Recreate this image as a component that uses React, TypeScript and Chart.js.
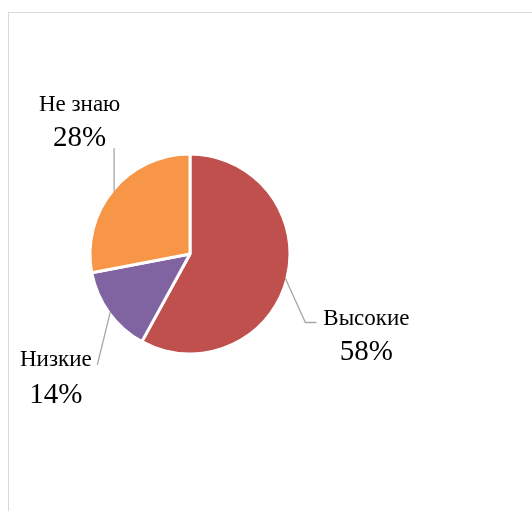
import React, { useEffect, useRef } from "react";
import { Chart, registerables } from "chart.js";

Chart.register(...registerables);

const categories = ["Высокие", "Низкие", "Не знаю"];
const values = [58, 14, 28];
const percentLabels = ["58%", "14%", "28%"];
const sliceColors = ["#C0504D", "#8064A2", "#F79646"];

const FONT_FAMILY = '"Liberation Serif"';

// leader-line and label placement relative to each slice's outer mid-point
const leaderLayout = [
  { bendDx: 20, bendDy: 44, tailDx: 11, textDx: 61, nameDy: 2.5, pctDy: 37.5 },
  { bendDx: -13, bendDy: 53, tailDx: 0, textDx: -41.5, nameDy: 1, pctDy: 38 },
  { bendDx: 0, bendDy: -43, tailDx: 0, textDx: -34.5, nameDy: -37, pctDy: -2 },
];

const labelPlugin = {
  id: "pieLabels",
  afterDraw(chart: any) {
    const ctx = chart.ctx;
    const meta = chart.getDatasetMeta(0);
    meta.data.forEach((arc: any, i: number) => {
      const p = arc.getProps(["x", "y", "startAngle", "endAngle", "outerRadius"], true);
      const mid = (p.startAngle + p.endAngle) / 2;
      const r = p.outerRadius - 1.5;
      const ax = p.x + Math.cos(mid) * r;
      const ay = p.y + Math.sin(mid) * r;
      const L = leaderLayout[i];
      const bx = ax + L.bendDx;
      const by = ay + L.bendDy;
      const tx = bx + L.tailDx;
      ctx.save();
      ctx.strokeStyle = "#A6A6A6";
      ctx.lineWidth = 1.3;
      ctx.beginPath();
      ctx.moveTo(ax, ay);
      ctx.lineTo(bx, by);
      if (L.tailDx !== 0) ctx.lineTo(tx, by);
      ctx.stroke();
      const cx = bx + L.textDx;
      ctx.fillStyle = "#000000";
      ctx.textAlign = "center";
      ctx.textBaseline = "alphabetic";
      ctx.font = "23px " + FONT_FAMILY;
      ctx.fillText(categories[i], cx, by + L.nameDy);
      ctx.font = "29px " + FONT_FAMILY;
      ctx.fillText(percentLabels[i], cx, by + L.pctDy);
      ctx.restore();
    });
  },
};

export default function App() {
  const ref = useRef<HTMLCanvasElement>(null);
  useEffect(() => {
    if (!ref.current) return;
    const chart = new Chart(ref.current, {
      type: "pie",
      data: {
        labels: categories,
        datasets: [
          {
            data: values,
            backgroundColor: sliceColors,
            borderColor: "#FFFFFF",
            borderWidth: 3,
          },
        ],
      },
      options: {
        responsive: false,
        animation: false,
        radius: 100,
        layout: { padding: { left: 40, right: 192, top: 50, bottom: 53 } },
        plugins: {
          legend: { display: false },
          tooltip: { enabled: false },
        },
        events: [],
      } as any,
      plugins: [labelPlugin],
    });
    return () => {
      chart.destroy();
    };
  }, []);
  return (
    <div style={{ position: "absolute", left: 0, top: 0, width: 532, height: 511, overflow: "hidden", background: "#FFFFFF" }}>
      <div
        style={{
          position: "absolute",
          left: 8,
          top: 12,
          width: 560,
          height: 540,
          border: "1px solid #D9D9D9",
          boxSizing: "border-box",
        }}
      />
      <canvas ref={ref} width={532} height={511} style={{ position: "absolute", left: 0, top: 0 }} />
    </div>
  );
}
